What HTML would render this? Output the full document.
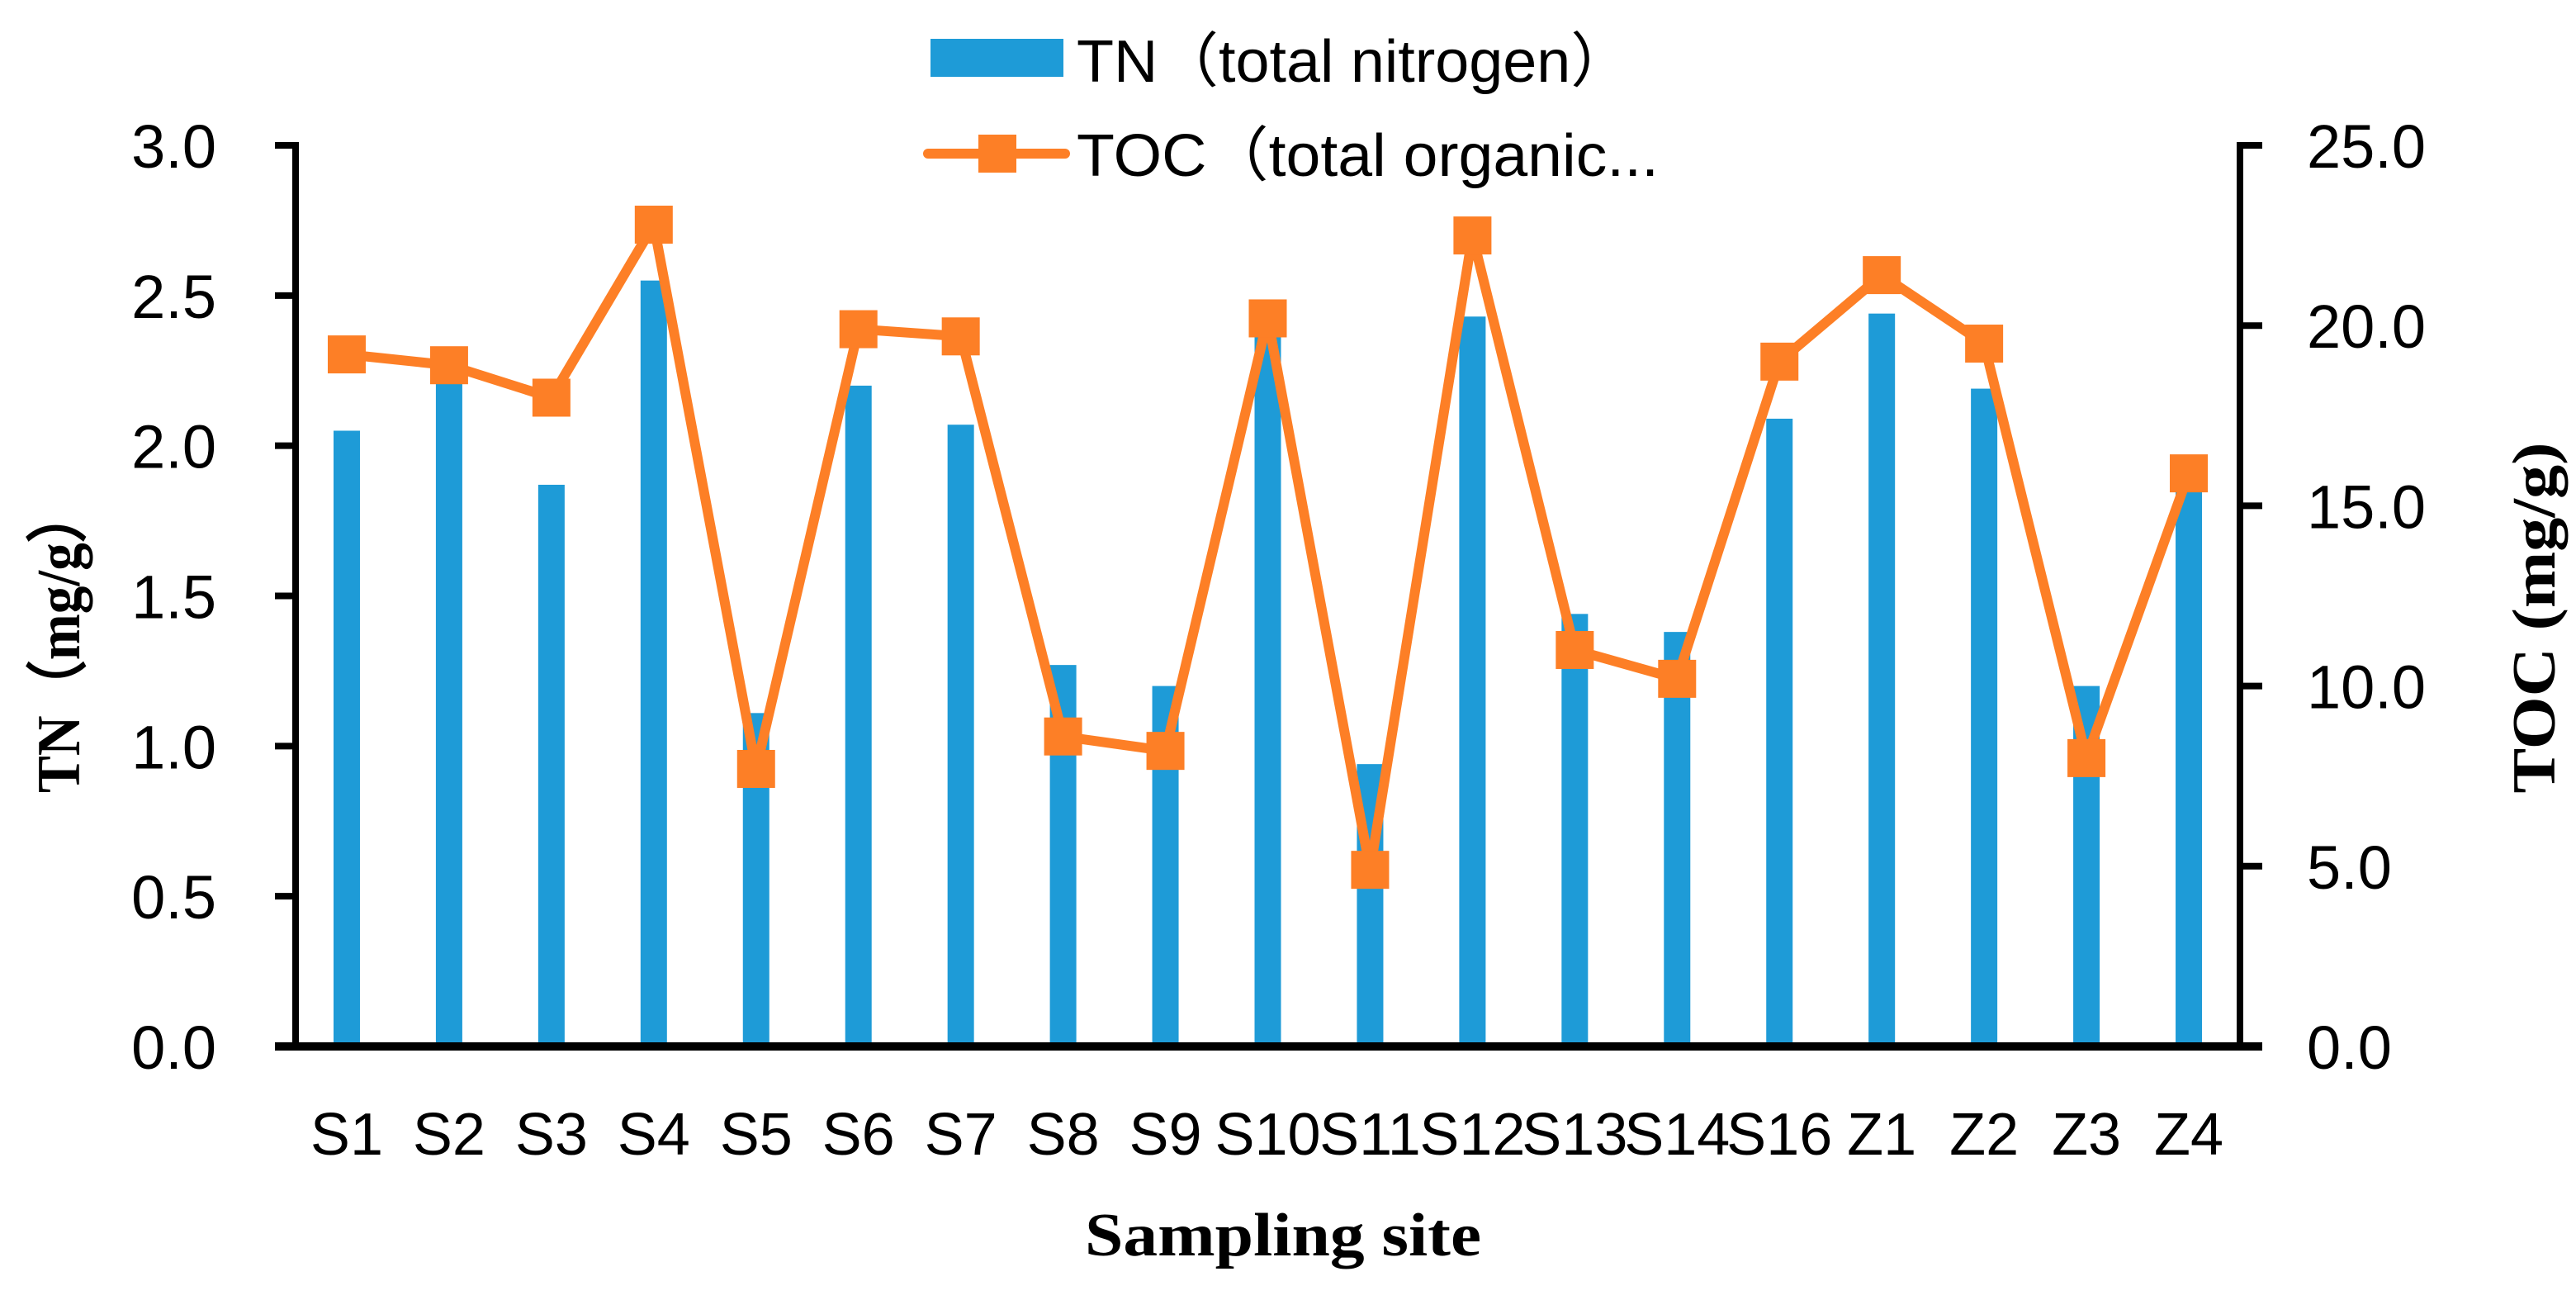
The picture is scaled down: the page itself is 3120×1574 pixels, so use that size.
<!DOCTYPE html>
<html><head><meta charset="utf-8"><style>
html,body{margin:0;padding:0;background:#fff;}
svg{display:block;}
text{font-family:"Liberation Sans",sans-serif;fill:#000;}
.ser{font-family:"Liberation Serif",serif;font-weight:bold;}
</style></head><body>
<svg id="chart" width="3120" height="1574" viewBox="0 0 3120 1574" xmlns="http://www.w3.org/2000/svg">
<g id="bars"></g>
<g id="line"></g>
<g id="axes"></g>
<g>
  <rect x="1127" y="47" width="161" height="46" fill="#1e9bd7"/>
  <text x="1304" y="99" font-size="72" textLength="672" lengthAdjust="spacingAndGlyphs">TN（total nitrogen）</text>
  <line x1="1124" y1="186" x2="1290" y2="186" stroke="#fd7f26" stroke-width="12" stroke-linecap="round"/>
  <rect x="1185" y="163" width="46" height="46" fill="#fd7f26"/>
  <text x="1304" y="213" font-size="72" textLength="705" lengthAdjust="spacingAndGlyphs">TOC（total organic...</text>
</g>
<text class="ser" transform="translate(96,775) rotate(-90)" text-anchor="middle" font-size="74" textLength="370" lengthAdjust="spacingAndGlyphs">TN（mg/g）</text>
<text class="ser" transform="translate(3094,748) rotate(-90)" text-anchor="middle" font-size="74" textLength="425" lengthAdjust="spacingAndGlyphs">TOC (mg/g)</text>
<text class="ser" x="1554" y="1520" text-anchor="middle" font-size="74" textLength="480" lengthAdjust="spacingAndGlyphs">Sampling site</text>
</svg>
<script>
const categories = ["S1","S2","S3","S4","S5","S6","S7","S8","S9","S10","S11","S12","S13","S14","S16","Z1","Z2","Z3","Z4"];
const tnValues = [2.05,2.23,1.87,2.55,1.11,2.20,2.07,1.27,1.20,2.38,0.94,2.43,1.44,1.38,2.09,2.44,2.19,1.20,1.85];
const tocValues = [19.2,18.9,18.0,22.8,7.7,19.9,19.7,8.6,8.2,20.2,4.9,22.5,11.0,10.2,19.0,21.4,19.5,8.0,15.9];
const leftTicks = [0,0.5,1,1.5,2,2.5,3];
const leftTickLabels = ["0.0","0.5","1.0","1.5","2.0","2.5","3.0"];
const rightTicks = [0,5,10,15,20,25];
const rightTickLabels = ["0.0","5.0","10.0","15.0","20.0","25.0"];

const NS="http://www.w3.org/2000/svg";
const L=358,R=2713,T=176,B=1267;
const bw=(R-L)/categories.length;
const xc=i=>L+bw*(i+0.5);
const yL=v=>B-(v/3)*(B-T);
const yR=v=>B-(v/25)*(B-T);
function mk(tag,attrs,parent){const e=document.createElementNS(NS,tag);for(const k in attrs)e.setAttribute(k,attrs[k]);parent.appendChild(e);return e;}
const gb=document.getElementById('bars'),gl=document.getElementById('line'),ga=document.getElementById('axes');

tnValues.forEach((v,i)=>{
  const r=mk('rect',{x:xc(i)-16,y:yL(v),width:32,height:B-yL(v),fill:'#1e9bd7'},gb);
  
  
});
const pts=tocValues.map((v,i)=>xc(i)+','+yR(v)).join(' ');
const pl=mk('polyline',{points:pts,fill:'none',stroke:'#fd7f26','stroke-width':12,'stroke-linejoin':'round'},gl);


tocValues.forEach((v,i)=>{
  const m=mk('rect',{x:xc(i)-23,y:yR(v)-23,width:46,height:46,fill:'#fd7f26'},gl);
  
  
});

let a=mk('line',{x1:L,y1:T-4,x2:L,y2:B,stroke:'#000','stroke-width':8},ga);


a=mk('line',{x1:R,y1:T-4,x2:R,y2:B,stroke:'#000','stroke-width':8},ga);


a=mk('line',{x1:333,y1:B,x2:2740,y2:B,stroke:'#000','stroke-width':10},ga);


leftTicks.forEach((v,i)=>{
  const t=mk('line',{x1:333,y1:yL(v),x2:L,y2:yL(v),stroke:'#000','stroke-width':8},ga);
  
  
  const tx=mk('text',{x:262,y:yL(v)+27,'text-anchor':'end','font-size':74},ga);
  tx.textContent=leftTickLabels[i];
  
  
});
rightTicks.forEach((v,i)=>{
  const t=mk('line',{x1:R,y1:yR(v),x2:2740,y2:yR(v),stroke:'#000','stroke-width':8},ga);
  
  
  const tx=mk('text',{x:2794,y:yR(v)+27,'font-size':74},ga);
  tx.textContent=rightTickLabels[i];
  
  
});
categories.forEach((c,i)=>{
  const tx=mk('text',{x:xc(i),y:1398,'text-anchor':'middle','font-size':72},ga);
  tx.textContent=c;
  
  
});
</script>
</body></html>
